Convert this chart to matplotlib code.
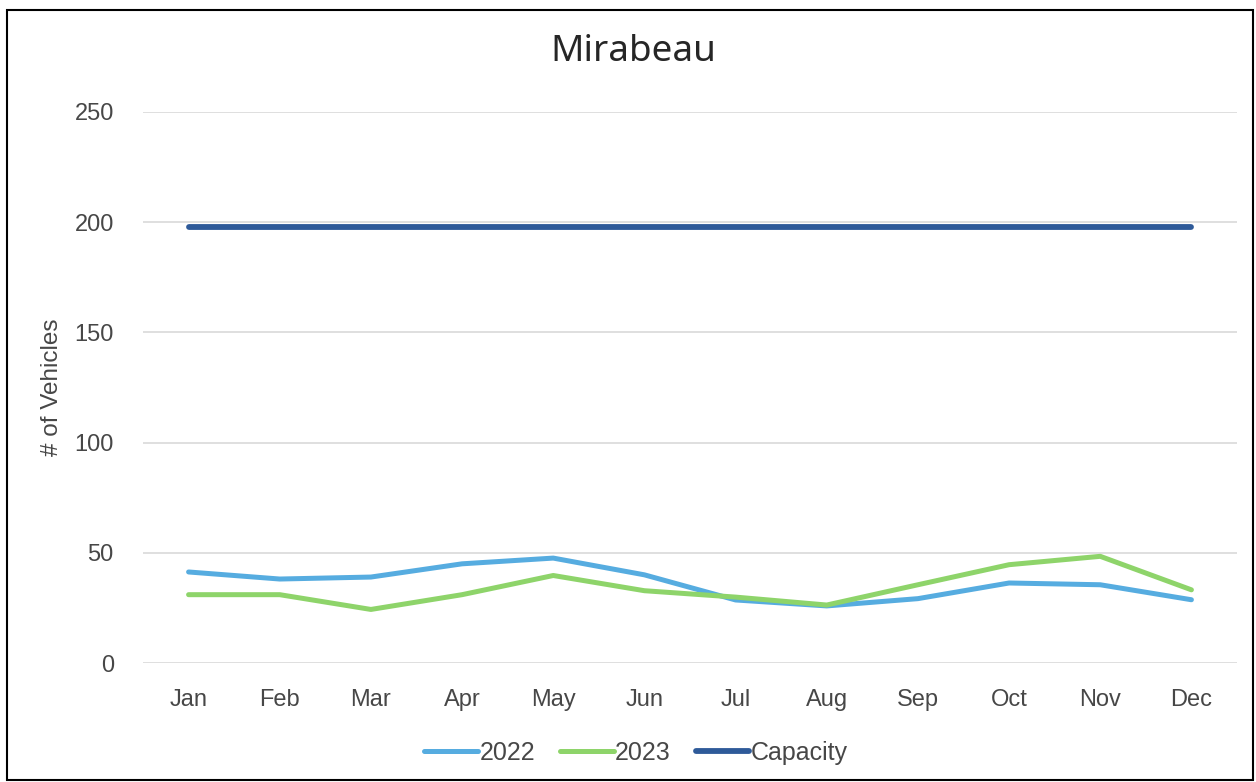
import matplotlib
matplotlib.use("Agg")
import matplotlib.pyplot as plt
from matplotlib.patches import Rectangle

months = ["Jan", "Feb", "Mar", "Apr", "May", "Jun", "Jul", "Aug", "Sep", "Oct", "Nov", "Dec"]
y2022 = [41.3, 38.1, 39.0, 45.0, 47.6, 40.0, 28.6, 25.9, 29.2, 36.3, 35.5, 28.7]
y2023 = [31.0, 31.0, 24.3, 31.0, 39.7, 32.8, 29.9, 26.3, 35.5, 44.6, 48.4, 33.2]
capacity = [198] * 12

c2022 = "#56ACE0"
c2023 = "#8ED46A"
ccap = "#2E5A99"
txt = "#474747"

plt.rcParams['font.family'] = ['Liberation Sans', 'DejaVu Sans']

fig = plt.figure(figsize=(12.56, 7.82), dpi=100)
ax = fig.add_axes([143/1256, 1 - 663/782, (1237-143)/1256, (663-112)/782])

x = list(range(len(months)))
ax.plot(x, y2022, color=c2022, lw=3.6, label="2022", solid_capstyle="round", solid_joinstyle="round")
ax.plot(x, y2023, color=c2023, lw=3.6, label="2023", solid_capstyle="round", solid_joinstyle="round")
ax.plot(x, capacity, color=ccap, lw=4.2, label="Capacity", solid_capstyle="round")

ax.set_xlim(-0.5, 11.5)
ax.set_ylim(0, 250)
ax.set_yticks([0, 50, 100, 150, 200, 250])
ax.set_xticks(x)
ax.set_xticklabels(months)
ax.grid(axis="y", color="#D9D9D9", lw=1.2)
ax.set_axisbelow(True)
for s in ax.spines.values():
    s.set_visible(False)
ax.tick_params(axis="both", length=0, labelsize=17, colors=txt)
ax.tick_params(axis="y", pad=21)
ax.tick_params(axis="x", pad=19)
ax.set_ylabel("# of Vehicles", fontsize=17.5, color=txt)
ax.yaxis.set_label_coords(-80/1094, 0.5)

fig.text(633/1256, 1 - 52/782, "Mirabeau", ha="center", va="center", fontsize=26.5,
         color="#262626", family=["Noto Sans", "DejaVu Sans"])

leg = fig.legend(loc="center", bbox_to_anchor=(636/1256, 1 - 753/782), ncol=3, frameon=False,
                 fontsize=18, handlelength=2.15, handletextpad=0.05, columnspacing=1.0, labelcolor=txt)

fig.patches.append(Rectangle((7/1256, 0.002), (1253-7)/1256, 1 - 10/782 - 0.002, transform=fig.transFigure,
                             fill=False, edgecolor="black", lw=1.5))

fig.savefig("out.png", dpi=100)
